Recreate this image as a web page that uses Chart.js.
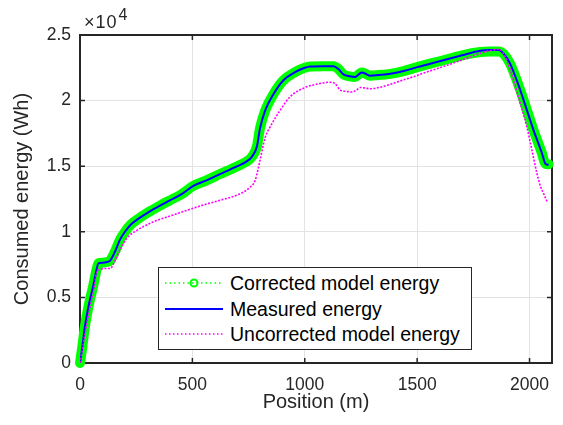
<!DOCTYPE html>
<html>
<head>
<meta charset="utf-8">
<script src="https://cdn.jsdelivr.net/npm/chart.js@4.4.1/dist/chart.umd.min.js"></script>
<style>
  html, body { margin: 0; padding: 0; background: #fff; }
  #wrap { position: relative; width: 563px; height: 425px; font-family: "Liberation Sans", Arial, sans-serif; }
  #exp { position: absolute; left: 84px; top: 13px; font-size: 18px; line-height: 1; color: #262626; white-space: nowrap; letter-spacing: 1px; }
  #exp sup { font-size: 16px; position: relative; top: -8px; vertical-align: baseline; margin-left: 1px; }
  #legend { position: absolute; left: 158px; top: 267px; width: 312px; height: 81px; border: 1px solid #262626; background: #fff; }
  .row { position: absolute; left: 0; height: 26px; display: flex; align-items: center; font-size: 19.5px; color: #000; white-space: nowrap; }
  .row svg { margin-left: 6px; margin-right: 7px; }
</style>
</head>
<body>
<div id="wrap">
  <canvas id="energyChart" width="563" height="425"></canvas>
  <div id="exp">×10<sup>4</sup></div>
  <div id="legend">
    <div class="row" style="top:2px">
      <svg width="58" height="12"><line x1="0" y1="6" x2="58" y2="6" stroke="#00ff00" stroke-width="1.5" stroke-dasharray="1.5 3"/><circle cx="29" cy="6" r="3.5" fill="none" stroke="#00ff00" stroke-width="2"/></svg>
      <span>Corrected model energy</span>
    </div>
    <div class="row" style="top:28px">
      <svg width="58" height="12"><line x1="0" y1="6" x2="58" y2="6" stroke="#0000ff" stroke-width="2"/></svg>
      <span>Measured energy</span>
    </div>
    <div class="row" style="top:53px">
      <svg width="58" height="12"><line x1="0" y1="6" x2="58" y2="6" stroke="#ff00ff" stroke-width="1.5" stroke-dasharray="1.5 2.5"/></svg>
      <span>Uncorrected model energy</span>
    </div>
  </div>
</div>
<script>
// positions (m) and energies (Wh)
const posMeasured = [0, 10, 22, 40, 59, 72, 82, 100, 120, 134,
  156, 178, 200, 223, 260, 300, 356, 400, 450, 504,
  560, 623, 700, 740, 764, 787, 801, 824, 861, 905,
  957, 1000, 1024, 1080, 1128, 1150, 1172, 1200, 1224, 1240,
  1254, 1270, 1291, 1330, 1365, 1400, 1440, 1500, 1600, 1700,
  1781, 1820, 1862, 1885, 1914, 1959, 2018, 2055, 2070, 2085];
const measured = [0, 1200, 2800, 4500, 5900, 7000, 7600, 7650, 7700, 7800,
  8500, 9400, 10000, 10500, 11000, 11450, 12000, 12400, 12850, 13500,
  13900, 14400, 15000, 15350, 15700, 16500, 17900, 19250, 20500, 21550,
  22170, 22500, 22600, 22620, 22620, 22400, 22000, 21850, 21800, 22000,
  22150, 22050, 21900, 21950, 22000, 22100, 22250, 22550, 23000, 23450,
  23800, 23850, 23850, 23570, 22800, 20780, 17730, 16000, 15200, 15100];
const corrected = [0, 1200, 2800, 4500, 5900, 7000, 7600, 7650, 7700, 7800,
  8500, 9400, 10000, 10500, 11000, 11450, 12000, 12400, 12850, 13500,
  13900, 14400, 15000, 15350, 15700, 16500, 17900, 19250, 20500, 21550,
  22170, 22500, 22600, 22620, 22620, 22400, 22000, 21850, 21800, 22000,
  22150, 22050, 21900, 21950, 22000, 22100, 22250, 22550, 23000, 23450,
  23700, 23750, 23750, 23550, 22800, 20780, 17730, 16000, 15200, 15150];

const posUncorrected = [0, 10, 25, 45, 60, 74, 90, 110, 134, 156,
  180, 208, 252, 325, 400, 504, 560, 623, 712, 757,
  779, 794, 801, 824, 846, 890, 935, 1002, 1068, 1113,
  1135, 1158, 1185, 1210, 1230, 1247, 1270, 1291, 1330, 1365,
  1425, 1480, 1529, 1600, 1700, 1781, 1820, 1862, 1880, 1900,
  1929, 1960, 1988, 2011, 2033, 2048, 2063, 2078];
const uncorrected = [0, 1000, 2500, 4300, 5500, 6900, 7150, 7200, 7200, 7800,
  8700, 9500, 10100, 10750, 11200, 11800, 12100, 12400, 12900, 13400,
  13900, 14900, 15450, 17200, 18000, 19250, 20300, 21000, 21300, 21400,
  21300, 20800, 20700, 20650, 20800, 21000, 20950, 20900, 21000, 21150,
  21500, 21800, 22100, 22500, 23100, 23600, 23800, 23900, 23700, 23000,
  21550, 19700, 18000, 16200, 14440, 13500, 12900, 12300];

const xTicks = [0, 500, 1000, 1500, 2000];
const yTicks = [0, 5000, 10000, 15000, 20000, 25000];

const toPoints = (xs, ys) => xs.map((x, i) => ({ x: x, y: ys[i] }));

// MATLAB-like box with inward ticks on all four sides
const frame = {
  id: 'frame',
  beforeDatasetsDraw(chart) {
    const { ctx, chartArea: a, scales: { x, y } } = chart;
    ctx.save();
    ctx.strokeStyle = '#262626';
    ctx.lineWidth = 1.5;
    ctx.beginPath();
    x.ticks.forEach(t => {
      const p = x.getPixelForValue(t.value);
      ctx.moveTo(p, a.bottom); ctx.lineTo(p, a.bottom - 5);
      ctx.moveTo(p, a.top); ctx.lineTo(p, a.top + 5);
    });
    y.ticks.forEach(t => {
      const p = y.getPixelForValue(t.value);
      ctx.moveTo(a.left, p); ctx.lineTo(a.left + 5, p);
      ctx.moveTo(a.right, p); ctx.lineTo(a.right - 5, p);
    });
    ctx.stroke();
    ctx.lineWidth = 2;
    ctx.strokeRect(a.left, a.top, a.right - a.left, a.bottom - a.top);
    ctx.restore();
  }
};

Chart.defaults.font.family = '"Liberation Sans", Arial, sans-serif';
Chart.defaults.color = '#262626';

const ctx = document.getElementById('energyChart').getContext('2d');
new Chart(ctx, {
  type: 'line',
  data: {
    datasets: [
      {
        label: 'Uncorrected model energy',
        data: toPoints(posUncorrected, uncorrected),
        borderColor: '#ff00ff',
        borderWidth: 1.6,
        borderDash: [2, 1.5],
        pointRadius: 0,
        cubicInterpolationMode: 'monotone',
        order: 1
      },
      {
        label: 'Measured energy',
        data: toPoints(posMeasured, measured),
        borderColor: '#0000ff',
        borderWidth: 2,
        pointRadius: 0,
        cubicInterpolationMode: 'monotone',
        order: 2
      },
      {
        label: 'Corrected model energy',
        data: toPoints(posMeasured, corrected),
        borderColor: '#00ff00',
        borderWidth: 10,
        borderCapStyle: 'round',
        borderJoinStyle: 'round',
        pointRadius: 0,
        cubicInterpolationMode: 'monotone',
        clip: 8,
        order: 3
      }
    ]
  },
  options: {
    responsive: false,
    animation: false,
    devicePixelRatio: 1,
    layout: { padding: { left: 0, top: 35, right: 11, bottom: 0 } },
    plugins: {
      legend: { display: false },
      tooltip: { enabled: false }
    },
    scales: {
      x: {
        type: 'linear',
        min: 0,
        max: 2100,
        afterFit: s => { s.height = 62; },
        afterBuildTicks: s => { s.ticks = xTicks.map(v => ({ value: v })); },
        border: { display: false },
        grid: { color: '#e3e3e3', drawTicks: false },
        ticks: { padding: 12, font: { size: 17.5 }, maxRotation: 0, autoSkip: false, callback: v => String(v) },
        title: { display: true, text: 'Position (m)', font: { size: 20 }, padding: { top: 0, bottom: 11 } }
      },
      y: {
        type: 'linear',
        min: 0,
        max: 25000,
        afterFit: s => { s.width = 80; },
        afterBuildTicks: s => { s.ticks = yTicks.map(v => ({ value: v })); },
        border: { display: false },
        grid: { color: '#e3e3e3', drawTicks: false },
        ticks: { padding: 9, font: { size: 17.5 }, autoSkip: false, callback: v => String(v / 1e4) },
        title: { display: true, text: 'Consumed energy (Wh)', font: { size: 20 }, padding: { top: 10.5, bottom: 0 } }
      }
    }
  },
  plugins: [frame]
});
</script>
</body>
</html>
